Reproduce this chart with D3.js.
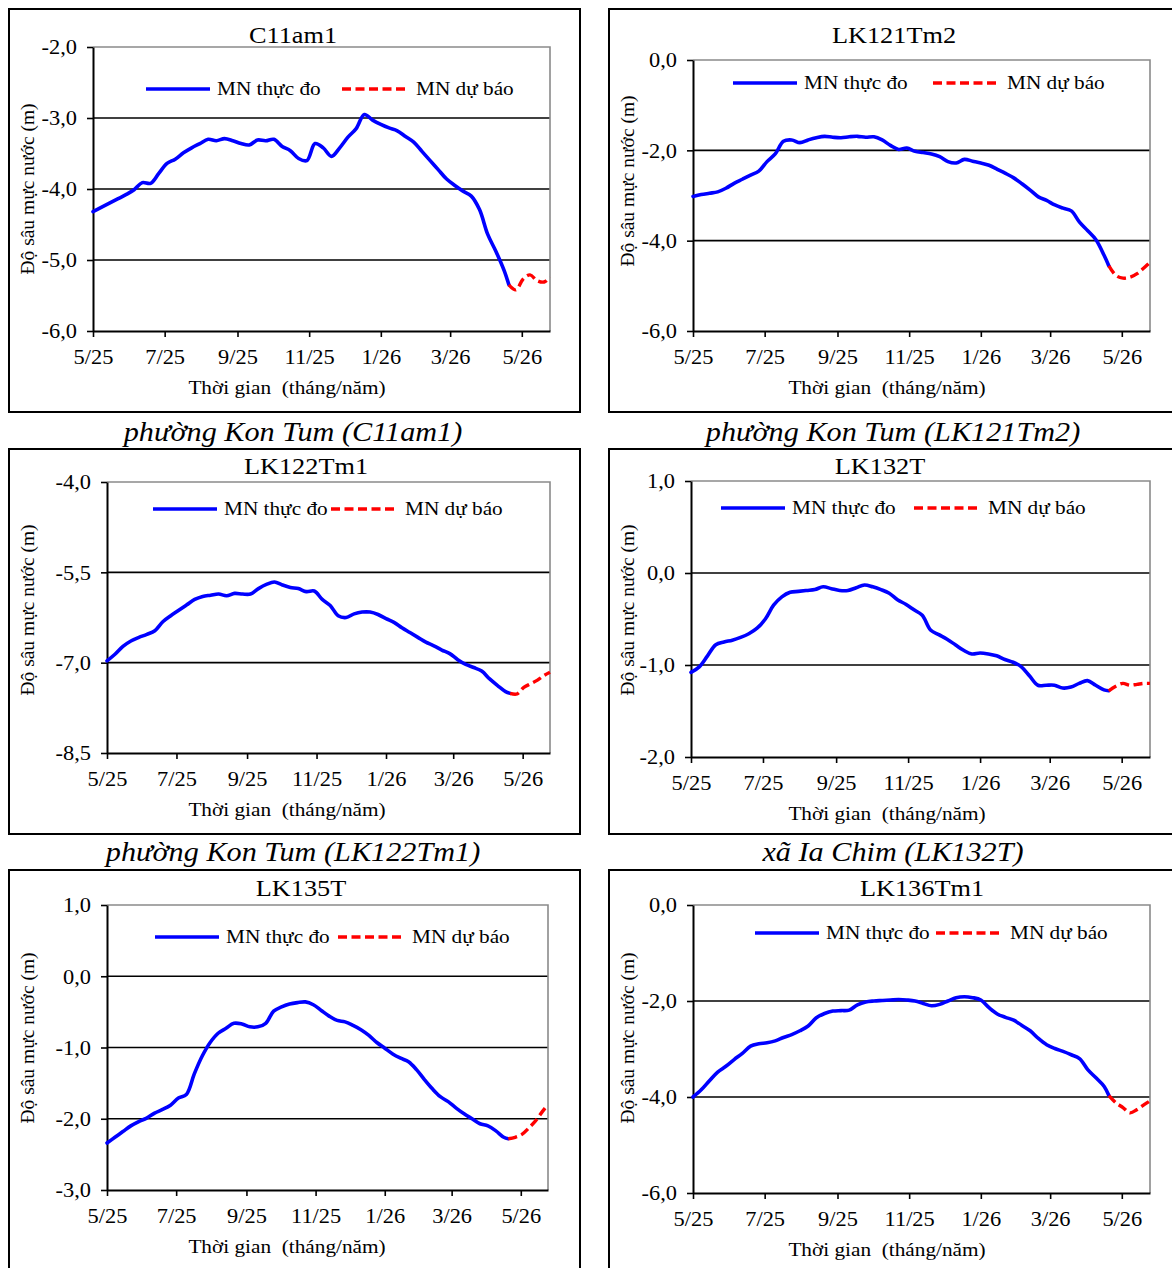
<!DOCTYPE html>
<html>
<head>
<meta charset="utf-8">
<script src="https://cdn.jsdelivr.net/npm/d3@7"></script>
<style>
  body { margin: 0; background: #fff; }
  svg { display: block; }
  text { font-family: "Liberation Serif", "Times New Roman", serif; fill: #000; }
</style>
</head>
<body>
<svg id="chart" width="1172" height="1268"></svg>
<script>
// ---- Observation dates (weekly) and forecast dates ----
const measuredDates = [
  "2025-05-01","2025-05-08","2025-05-15","2025-05-22","2025-05-29",
  "2025-06-05","2025-06-12","2025-06-19","2025-06-26",
  "2025-07-03","2025-07-10","2025-07-17","2025-07-24","2025-07-31",
  "2025-08-07","2025-08-14","2025-08-21","2025-08-28",
  "2025-09-04","2025-09-11","2025-09-18","2025-09-25",
  "2025-10-02","2025-10-09","2025-10-16","2025-10-23","2025-10-30",
  "2025-11-06","2025-11-13","2025-11-20","2025-11-27",
  "2025-12-04","2025-12-11","2025-12-18","2025-12-25",
  "2026-01-01","2026-01-08","2026-01-15","2026-01-22","2026-01-29",
  "2026-02-05","2026-02-12","2026-02-19","2026-02-26",
  "2026-03-05","2026-03-12","2026-03-19","2026-03-26",
  "2026-04-02","2026-04-09","2026-04-16","2026-04-20"
];
const forecastDates = ["2026-04-20","2026-04-26","2026-05-02","2026-05-08","2026-05-14","2026-05-20","2026-05-25"];
const xTickDates = ["2025-05-01","2025-07-01","2025-09-01","2025-11-01","2026-01-01","2026-03-01","2026-05-01"];
const xDomain = ["2025-05-01","2026-05-25"];

// ---- Station names and captions ----
const stationNames = ["C11am1","LK121Tm2","LK122Tm1","LK132T","LK135T","LK136Tm1"];
const captions = ["phường Kon Tum (C11am1)","phường Kon Tum (LK121Tm2)","phường Kon Tum (LK122Tm1)","xã Ia Chim (LK132T)"];
const legendLabels = ["MN thực đo","MN dự báo"];
const xAxisTitle = "Thời gian\u00A0 (tháng/năm)";
const yAxisTitle = "Độ sâu mực nước (m)";

// ---- Water-table depth (m), measured ----
const measuredC11am1 = [
  -4.32,-4.26,-4.20,-4.14,-4.08, -4.01,-3.91,-3.92,-3.78, -3.64,-3.58,-3.49,-3.42,-3.36,
  -3.30,-3.32,-3.29,-3.32, -3.36,-3.38,-3.31,-3.32, -3.30,-3.40,-3.46,-3.57,-3.60,
  -3.36,-3.42,-3.54,-3.42, -3.27,-3.15,-2.95,-3.03, -3.09,-3.14,-3.18,-3.26,-3.34,
  -3.47,-3.60,-3.73,-3.86, -3.95,-4.03,-4.10,-4.29, -4.64,-4.88,-5.15,-5.35
];
const measuredLK121Tm2 = [
  -3.02,-2.98,-2.95,-2.92,-2.84, -2.73,-2.64,-2.55,-2.46, -2.25,-2.08,-1.80,-1.77,-1.83,
  -1.77,-1.72,-1.69,-1.71, -1.72,-1.70,-1.69,-1.71, -1.70,-1.77,-1.89,-1.98,-1.95,
  -2.02,-2.05,-2.08,-2.14, -2.25,-2.28,-2.20,-2.24, -2.28,-2.33,-2.42,-2.51,-2.61,
  -2.74,-2.88,-3.03,-3.11, -3.21,-3.28,-3.34,-3.59, -3.78,-3.98,-4.33,-4.56
];
const measuredLK122Tm1 = [
  -6.97,-6.86,-6.73,-6.64,-6.58, -6.53,-6.47,-6.32,-6.22, -6.13,-6.04,-5.95,-5.90,-5.88,
  -5.86,-5.89,-5.85,-5.86, -5.86,-5.77,-5.70,-5.66, -5.71,-5.75,-5.77,-5.82,-5.81,
  -5.95,-6.05,-6.22,-6.25, -6.19,-6.16,-6.16,-6.20, -6.27,-6.33,-6.42,-6.50,-6.58,
  -6.66,-6.72,-6.79,-6.85, -6.95,-7.03,-7.08,-7.14, -7.27,-7.38,-7.48,-7.51
];
const measuredLK132T = [
  -1.08,-1.02,-0.90,-0.78,-0.75, -0.73,-0.70,-0.66,-0.60, -0.50,-0.35,-0.26,-0.21,-0.20,
  -0.19,-0.18,-0.15,-0.17, -0.19,-0.19,-0.16,-0.13, -0.15,-0.18,-0.22,-0.29,-0.34,
  -0.40,-0.46,-0.62,-0.67, -0.72,-0.78,-0.84,-0.88, -0.87,-0.88,-0.90,-0.94,-0.97,
  -1.02,-1.12,-1.22,-1.22, -1.22,-1.25,-1.24,-1.20, -1.17,-1.22,-1.27,-1.28
];
const measuredLK135T = [
  -2.34,-2.26,-2.18,-2.10,-2.04, -1.99,-1.92,-1.87,-1.81, -1.71,-1.66,-1.37,-1.12,-0.93,
  -0.80,-0.73,-0.66,-0.67, -0.71,-0.71,-0.66,-0.49, -0.43,-0.39,-0.37,-0.36,-0.40,
  -0.48,-0.56,-0.62,-0.64, -0.69,-0.75,-0.83,-0.93, -1.01,-1.09,-1.15,-1.20,-1.31,
  -1.45,-1.58,-1.69,-1.76, -1.85,-1.93,-2.00,-2.07, -2.10,-2.17,-2.26,-2.28
];
const measuredLK136Tm1 = [
  -4.00,-3.85,-3.66,-3.48,-3.36, -3.22,-3.09,-2.94,-2.89, -2.87,-2.83,-2.76,-2.70,-2.62,
  -2.52,-2.35,-2.26,-2.21, -2.20,-2.19,-2.08,-2.02, -2.00,-1.99,-1.98,-1.97,-1.98,
  -2.00,-2.05,-2.10,-2.07, -2.00,-1.93,-1.91,-1.93, -1.98,-2.14,-2.27,-2.34,-2.40,
  -2.51,-2.62,-2.78,-2.91, -2.99,-3.05,-3.12,-3.20, -3.43,-3.60,-3.78,-3.97
];

// ---- Water-table depth (m), forecast ----
const forecastC11am1   = [-5.35,-5.42,-5.27,-5.21,-5.29,-5.31,-5.24];
const forecastLK121Tm2 = [-4.56,-4.77,-4.83,-4.81,-4.73,-4.60,-4.48];
const forecastLK122Tm1 = [-7.51,-7.52,-7.41,-7.35,-7.29,-7.21,-7.16];
const forecastLK132T   = [-1.28,-1.23,-1.20,-1.22,-1.21,-1.20,-1.20];
const forecastLK135T   = [-2.28,-2.26,-2.22,-2.13,-2.03,-1.90,-1.80];
const forecastLK136Tm1 = [-3.97,-4.12,-4.22,-4.33,-4.26,-4.16,-4.08];

// ---- Y tick values per station ----
const yTicksC11am1   = [-6, -5, -4, -3, -2];
const yTicksLK121Tm2 = [-6, -4, -2, 0];
const yTicksLK122Tm1 = [-8.5, -7, -5.5, -4];
const yTicksLK132T   = [-2, -1, 0, 1];
const yTicksLK135T   = [-3, -2, -1, 0, 1];
const yTicksLK136Tm1 = [-6, -4, -2, 0];

// ---- Panel layout ----
const panels = [
  { name: stationNames[0], measured: measuredC11am1, forecast: forecastC11am1, yTicks: yTicksC11am1,
    box: [9, 9, 571, 403], plot: [93, 47, 550, 331], title: [293, 43], yTitleY: 189, legend: [89, 146, 342] },
  { name: stationNames[1], measured: measuredLK121Tm2, forecast: forecastLK121Tm2, yTicks: yTicksLK121Tm2,
    box: [609, 9, 600, 403], plot: [693, 60, 1150, 331], title: [894, 43], yTitleY: 181, legend: [83, 733, 933] },
  { name: stationNames[2], measured: measuredLK122Tm1, forecast: forecastLK122Tm1, yTicks: yTicksLK122Tm1,
    box: [9, 449, 571, 385], plot: [107, 482, 550, 753], title: [306, 474], yTitleY: 610, legend: [509, 153, 331] },
  { name: stationNames[3], measured: measuredLK132T, forecast: forecastLK132T, yTicks: yTicksLK132T,
    box: [609, 449, 600, 385], plot: [691, 481, 1150, 757], title: [880, 474], yTitleY: 610, legend: [508, 721, 914] },
  { name: stationNames[4], measured: measuredLK135T, forecast: forecastLK135T, yTicks: yTicksLK135T,
    box: [9, 870, 571, 420], plot: [107, 905, 548, 1190], title: [301, 896], yTitleY: 1038, legend: [937, 155, 338] },
  { name: stationNames[5], measured: measuredLK136Tm1, forecast: forecastLK136Tm1, yTicks: yTicksLK136Tm1,
    box: [609, 870, 600, 420], plot: [693, 905, 1150, 1193], title: [922, 896], yTitleY: 1038, legend: [933, 755, 936] }
];
const captionPos = [[293, 441], [893, 441], [293, 861], [893, 861]];

// ---- Drawing ----
const SX = 1.12;               // horizontal stretch of the lettering
const parse = d3.utcParse("%Y-%m-%d");
const vn = d3.formatLocale({ decimal: ",", thousands: ".", grouping: [3], currency: ["", ""], minus: "-" });
const fmtY = vn.format(".1f");
const fmtX = d3.utcFormat("%-m/%y");
const svg = d3.select("#chart");

svg.append("rect").attr("width", 1172).attr("height", 1268).attr("fill", "#fff");

function stretched(g, x, y, str, size, anchor, italic) {
  return g.append("text")
    .attr("transform", `translate(${x},${y}) scale(${SX},1)`)
    .attr("text-anchor", anchor || "start")
    .style("font-size", size + "px")
    .style("font-style", italic ? "italic" : null)
    .style("white-space", "pre")
    .text(str);
}

panels.forEach(p => {
  const g = svg.append("g");
  const [l, t, r, b] = p.plot;

  g.append("rect")
    .attr("x", p.box[0]).attr("y", p.box[1])
    .attr("width", p.box[2]).attr("height", p.box[3])
    .attr("fill", "none").attr("stroke", "#000").attr("stroke-width", 2);

  const x = d3.scaleUtc().domain(xDomain.map(parse)).range([l, r]);
  const y = d3.scaleLinear().domain(d3.extent(p.yTicks)).range([b, t]);

  // horizontal gridlines at inner ticks
  g.append("g").selectAll("line")
    .data(p.yTicks.filter(v => v !== d3.min(p.yTicks) && v !== d3.max(p.yTicks)))
    .join("line")
    .attr("x1", l).attr("x2", r)
    .attr("y1", d => y(d)).attr("y2", d => y(d))
    .attr("stroke", "#000").attr("stroke-width", 1.6);

  // grey frame on top and right of the plot area
  g.append("path")
    .attr("d", `M${l},${t}H${r}V${b}`)
    .attr("fill", "none").attr("stroke", "#8a8a8a").attr("stroke-width", 1.6);

  // y axis
  const ya = g.append("g")
    .attr("transform", `translate(${l},0)`)
    .call(d3.axisLeft(y).tickValues(p.yTicks).tickSize(6).tickSizeOuter(0).tickPadding(10).tickFormat(fmtY));
  ya.select(".domain").attr("stroke", "#000").attr("stroke-width", 2);
  ya.selectAll(".tick line").attr("stroke", "#000").attr("stroke-width", 1.6);
  ya.selectAll(".tick text")
    .attr("x", -16 / SX)
    .attr("transform", `scale(${SX},1)`)
    .attr("dy", "0.34em")
    .style("font-size", "20px")
    .style("font-family", null);

  // x axis
  const xa = g.append("g")
    .attr("transform", `translate(0,${b})`)
    .call(d3.axisBottom(x).tickValues(xTickDates.map(parse)).tickSize(6).tickSizeOuter(0).tickPadding(13).tickFormat(fmtX));
  xa.select(".domain").attr("stroke", "#000").attr("stroke-width", 2);
  xa.selectAll(".tick line").attr("stroke", "#000").attr("stroke-width", 1.6);
  xa.selectAll(".tick text")
    .attr("transform", `scale(${SX},1)`)
    .style("font-size", "20px")
    .style("font-family", null);

  // series
  const measured = measuredDates.map((d, i) => [parse(d), p.measured[i]]);
  const forecast = forecastDates.map((d, i) => [parse(d), p.forecast[i]]);
  const line = d3.line().x(d => x(d[0])).y(d => y(d[1])).curve(d3.curveCatmullRom.alpha(0.5));

  g.append("path").datum(measured).attr("d", line)
    .attr("fill", "none").attr("stroke", "#0000ff").attr("stroke-width", 3.6)
    .attr("stroke-linejoin", "round").attr("stroke-linecap", "round");
  g.append("path").datum(forecast).attr("d", line)
    .attr("fill", "none").attr("stroke", "#ff0000").attr("stroke-width", 3.4)
    .attr("stroke-dasharray", "9,4.5");

  // legend
  const [ly, bx, rx] = p.legend;
  g.append("line").attr("x1", bx).attr("x2", bx + 64).attr("y1", ly).attr("y2", ly)
    .attr("stroke", "#0000ff").attr("stroke-width", 3.6);
  stretched(g, bx + 71, ly + 6, legendLabels[0], 19);
  g.append("line").attr("x1", rx).attr("x2", rx + 66).attr("y1", ly).attr("y2", ly)
    .attr("stroke", "#ff0000").attr("stroke-width", 3.4).attr("stroke-dasharray", "9,4.5");
  stretched(g, rx + 74, ly + 6, legendLabels[1], 19);

  // titles
  stretched(g, p.title[0], p.title[1], p.name, 23.5, "middle");
  stretched(g, p.box[0] + 278, b + 63, xAxisTitle, 19, "middle");
  g.append("text")
    .attr("transform", `translate(${p.box[0] + 25},${p.yTitleY}) rotate(-90)`)
    .attr("text-anchor", "middle")
    .style("font-size", "19.5px")
    .text(yAxisTitle);
});

captions.forEach((c, i) => {
  stretched(svg, captionPos[i][0], captionPos[i][1], c, 27, "middle", true);
});
</script>
</body>
</html>
